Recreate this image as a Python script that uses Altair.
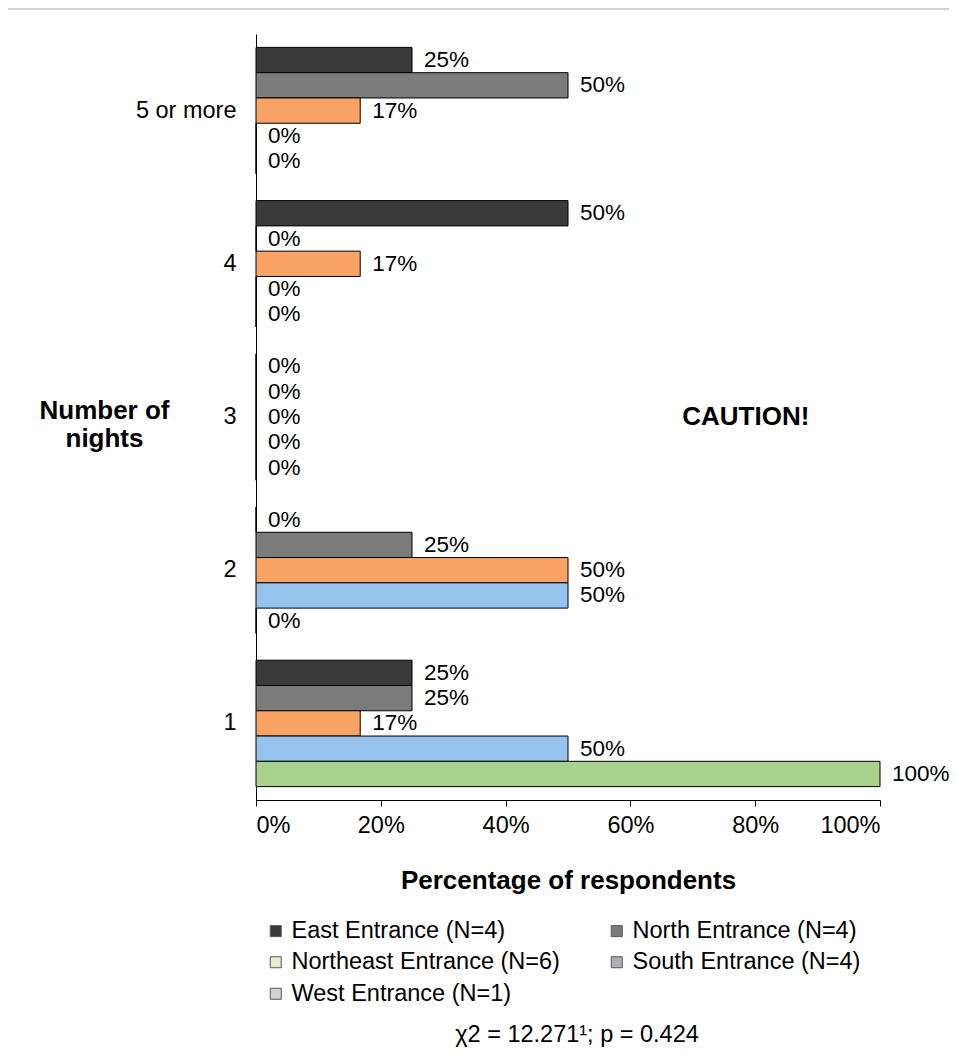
import altair as alt
import pandas as pd

FONT = "Liberation Sans"
FS = 23.5
FS_BAR = 22.5

categories = ["5 or more", "4", "3", "2", "1"]
series = [
    "East Entrance (N=4)",
    "North Entrance (N=4)",
    "Northeast Entrance (N=6)",
    "South Entrance (N=4)",
    "West Entrance (N=1)",
]
east = [25, 50, 0, 0, 25]
north = [50, 0, 0, 25, 25]
northeast = [16.7, 16.7, 0, 50, 16.7]
south = [0, 0, 0, 50, 50]
west = [0, 0, 0, 0, 100]

bar_colors = ["#3a3a3a", "#7b7b7b", "#f9a464", "#95c3ee", "#a9d18e"]
legend_colors = ["#3a3a3a", "#7b7b7b", "#e9ecc9", "#adadb8", "#d2d2d2"]
x_ticks = [0, 20, 40, 60, 80, 100]
caution_text = "CAUTION!"
footer_text = "\u03c72 = 12.271\u00b9; p = 0.424"

rows = []
for s, vals in zip(series, [east, north, northeast, south, west]):
    for c, v in zip(categories, vals):
        rows.append({"night": c, "series": s, "series_leg": s, "pct": v, "label": f"{round(v):d}%"})
df = pd.DataFrame(rows)

y_enc = alt.Y(
    "night:N",
    sort=categories,
    scale=alt.Scale(paddingInner=0.175, paddingOuter=0.0875),
    axis=alt.Axis(
        title=["Number of", "nights"],
        titleAngle=0,
        titleFont=FONT,
        titleFontSize=26,
        titleFontWeight="bold",
        titleColor="#000",
        titleAlign="center",
        titleBaseline="middle",
        titleX=-152,
        titleY=376,
        titleLineHeight=28,
        labelFont=FONT,
        labelFontSize=FS,
        labelColor="#000",
        labelPadding=20,
        ticks=False,
        domainColor="#000",
        domainWidth=1,
    ),
)
yoff_enc = alt.YOffset("series:N", sort=series, scale=alt.Scale(paddingInner=0, paddingOuter=0))
x_enc = alt.X(
    "pct:Q",
    scale=alt.Scale(domain=[0, 100], nice=False),
    axis=alt.Axis(
        values=x_ticks,
        labelExpr="datum.value + '%'",
        title="Percentage of respondents",
        titleFont=FONT,
        titleFontSize=26,
        titleFontWeight="bold",
        titleColor="#000",
        titlePadding=31,
        labelFont=FONT,
        labelFontSize=FS,
        labelColor="#000",
        labelPadding=7,
        tickSize=6,
        tickColor="#000",
        domainColor="#000",
        grid=False,
    ),
)

base = alt.Chart(df)

bars = base.mark_bar(stroke="#000", strokeWidth=1).encode(
    y=y_enc,
    yOffset=yoff_enc,
    x=x_enc,
    color=alt.Color("series:N", scale=alt.Scale(domain=series, range=bar_colors), legend=None),
)

labels = base.mark_text(align="left", baseline="middle", dx=12, font=FONT, fontSize=FS_BAR, color="#000").encode(
    y=alt.Y("night:N", sort=categories),
    yOffset=yoff_enc,
    x=alt.X("pct:Q"),
    text="label:N",
)

legend_layer = base.mark_bar(strokeWidth=0, opacity=1).encode(
    y=alt.Y("night:N", sort=categories),
    yOffset=yoff_enc,
    x=alt.datum(0),
    x2=alt.datum(0),
    color=alt.Color(
        "series_leg:N",
        scale=alt.Scale(domain=series, range=legend_colors),
        legend=alt.Legend(
            title=None,
            orient="none",
            legendX=8,
            legendY=885,
            direction="horizontal",
            columns=2,
            columnPadding=45,
            rowPadding=6.5,
            symbolType="square",
            symbolSize=121,
            symbolStrokeColor="#555",
            symbolStrokeWidth=1,
            symbolOpacity=1,
            labelFont=FONT,
            labelFontSize=FS,
            labelColor="#000",
            labelOffset=4,
            labelLimit=400,
        ),
    ),
)

caution = alt.Chart(pd.DataFrame({"t": [caution_text]})).mark_text(
    font=FONT, fontSize=26, fontWeight="bold", color="#000", align="center", baseline="middle"
).encode(x=alt.datum(78.5), y=alt.datum("3"), text="t:N")

footer = alt.Chart(pd.DataFrame({"t": [footer_text]})).mark_text(
    font=FONT, fontSize=FS, color="#000", align="center", baseline="middle"
).encode(x=alt.value(321), y=alt.value(1001), text="t:N")

top_line = alt.Chart(pd.DataFrame({"t": [0]})).mark_rule(color="#c4c4c4", strokeWidth=1.5).encode(
    x=alt.value(-248), x2=alt.value(693), y=alt.value(-25)
)

chart = (
    alt.layer(top_line, bars, labels, legend_layer, caution, footer)
    .resolve_scale(color="independent")
    .properties(
        width=624,
        height=766,
        background="white",
        padding={"left": 248, "top": 26, "right": 69, "bottom": 249},
        autosize=alt.AutoSizeParams(type="none"),
    )
    .configure_view(strokeWidth=0, stroke=None)
)

chart.save("out.html", embed_options={"renderer": "svg", "actions": False})
